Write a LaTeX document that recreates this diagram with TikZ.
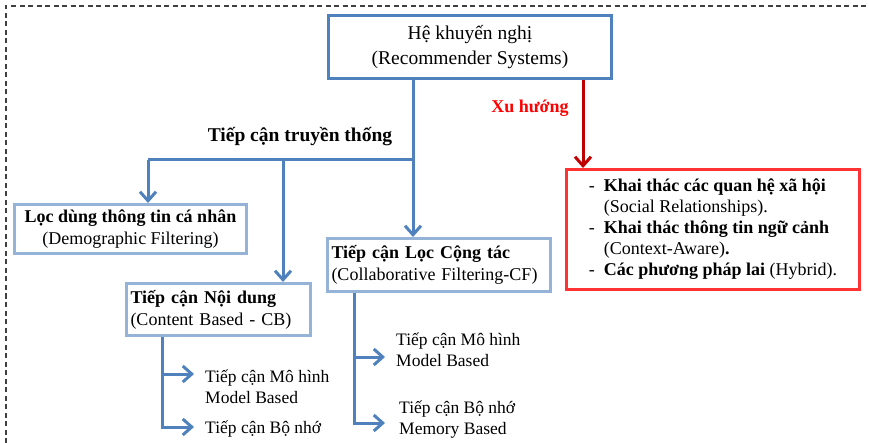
\documentclass[tikz,border=0pt]{standalone}
\usepackage{fontspec}
\setmainfont{Liberation Serif}
\usepackage{xcolor}
\usetikzlibrary{arrows.meta}

\definecolor{lineblue}{HTML}{4F81BD}
\definecolor{boxblue}{HTML}{95B3D7}
\definecolor{boxred}{HTML}{FF3333}
\definecolor{arrowred}{HTML}{C00000}

\begin{document}
\begin{tikzpicture}[x=1pt,y=-1pt,
    txt/.style={font=\fontsize{17.5}{21}\selectfont, inner sep=0pt},
    box/.style={draw=boxblue, line width=3pt, fill=white, font=\fontsize{18}{22}\selectfont, inner ysep=2pt},
    bline/.style={draw=lineblue, line width=3pt},
    barb/.style={-{Straight Barb[length=9pt,width=16pt,line width=3pt]}}]
\useasboundingbox (0,0) rectangle (869,443);
\clip (0,0) rectangle (869,443);

% Dashed frame
\draw[gray!50!black, line width=1.5pt, dash pattern=on 5pt off 3.5pt] (6,443) -- (6,6) -- (869,6);

% Boxes
\node[box, draw=lineblue, minimum width=283pt, minimum height=63pt, align=center,
    font=\fontsize{19.5}{25}\selectfont] (top) at (470,47)
    {Hệ khuyến nghị\\(Recommender Systems)};
\node[box, minimum width=232pt, minimum height=49pt, align=center] (demo) at (130.5,229)
    {\textbf{Lọc dùng thông tin cá nhân}\\(Demographic Filtering)};
\node[box, text width=176pt, inner xsep=4pt, minimum height=52pt, align=left] (cb) at (218.5,309.5)
    {\textbf{Tiếp cận Nội dung}\\(Content Based - CB)};
\node[box, text width=215pt, inner xsep=4pt, minimum height=53pt, align=left] (cf) at (439,265)
    {\textbf{Tiếp cận Lọc Cộng tác}\\(Collaborative Filtering-CF)};
\node[box, draw=boxred, minimum width=293pt, minimum height=120pt, align=left,
    font=\fontsize{18}{21}\selectfont] (trend) at (713,229.5)
    {\makebox[15pt][l]{-}\textbf{Khai thác các quan hệ xã hội}\\
     \hspace*{15pt}(Social Relationships).\\
     \makebox[15pt][l]{-}\textbf{Khai thác thông tin ngữ cảnh}\\
     \hspace*{15pt}(Context-Aware)\textbf{.}\\
     \makebox[15pt][l]{-}\textbf{Các phương pháp lai} (Hybrid).};

% Labels
\node[txt, font=\fontsize{19.5}{21}\selectfont\bfseries] (trad) at (300,137) {Tiếp cận truyền thống};
\node[txt, font=\fontsize{18}{21}\selectfont\bfseries, text=red] (xu) at (530,108) {Xu hướng};

% Branch texts
\node[txt, anchor=west, align=left] (cbm) at (205,386.5) {Tiếp cận Mô hình\\Model Based};
\node[txt, anchor=west, align=left] (cbb) at (205,429) {Tiếp cận Bộ nhớ};
\node[txt, anchor=west, align=left] (cfm) at (396,350) {Tiếp cận Mô hình\\Model Based};
\node[txt, anchor=west, align=left] (cfb) at (399,420) {Tiếp cận Bộ nhớ\\Memory Based};

% Joints and arrow tips
\coordinate (j) at (413,160);
\coordinate (jl) at (148,160);
\coordinate (jm) at (283,160);
\coordinate (r) at ([xshift=18pt]trend.north west);
\coordinate (cbx) at ([xshift=37pt]cb.south west);
\coordinate (cfx) at ([xshift=28pt]cf.south west);
\coordinate (cbmT) at ([shift={(-11pt,12.5pt)}]cbm.west);
\coordinate (cbbT) at ([shift={(-11pt,2pt)}]cbb.west);
\coordinate (cfmT) at ([shift={(-11pt,-7pt)}]cfm.west);
\coordinate (cfbT) at ([shift={(-14pt,-3pt)}]cfb.west);

% Connectors
\draw[bline, barb] (top.south -| j) -- (j |- cf.north);
\draw[bline] (jl) -- (j);
\draw[bline, barb] (jl) -- (jl |- demo.north);
\draw[bline, barb] (jm) -- (jm |- cb.north);
\draw[draw=arrowred, line width=3pt, barb] (top.south -| r) -- (r);

\draw[bline, barb] (cbx) |- (cbbT);
\draw[bline, barb] (cbmT -| cbx) -- (cbmT);
\draw[bline, barb] (cfx) |- (cfbT);
\draw[bline, barb] (cfmT -| cfx) -- (cfmT);
\end{tikzpicture}
\end{document}
